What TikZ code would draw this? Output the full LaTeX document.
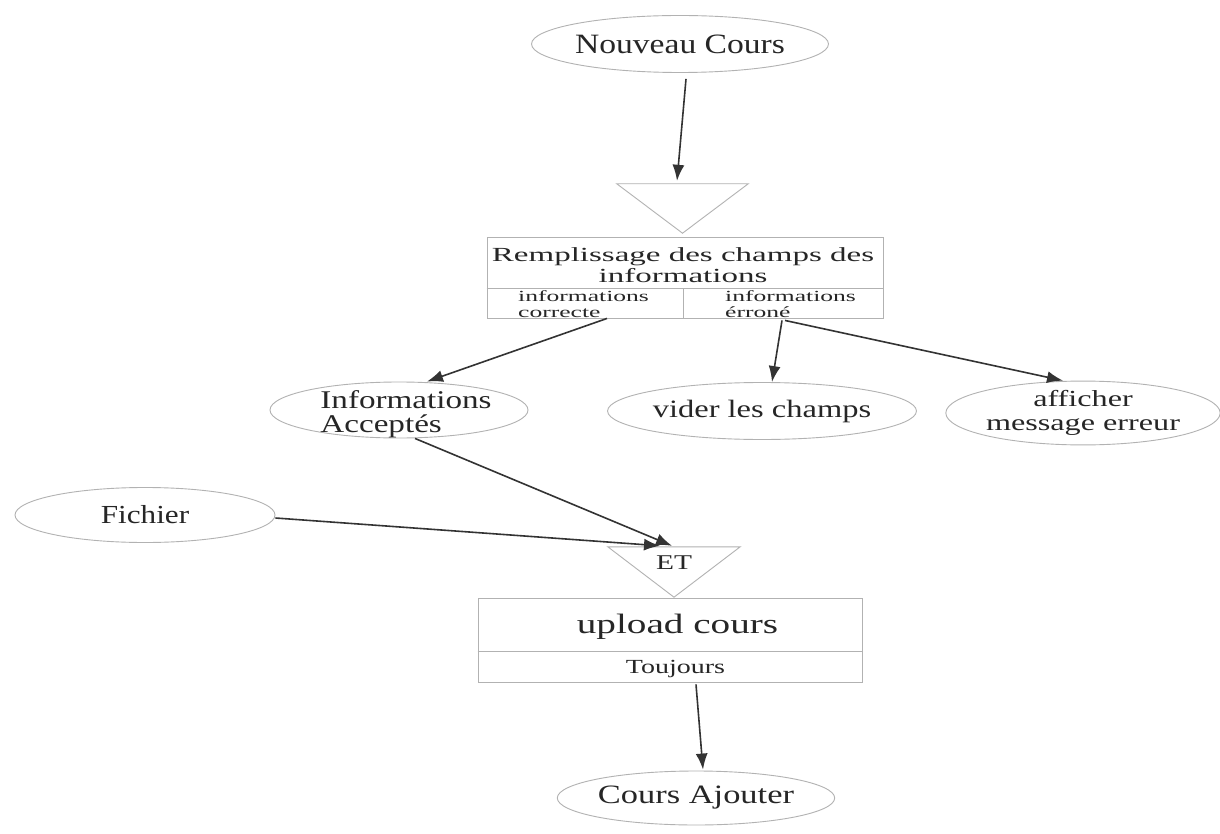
\documentclass[tikz,border=0pt]{standalone}
\usepackage{fontspec}
\setmainfont{Liberation Serif}
\newfontfamily\stA[FakeStretch=1.2]{Liberation Serif}
\newfontfamily\stB[FakeStretch=1.3]{Liberation Serif}
\newfontfamily\stC[FakeStretch=1.4]{Liberation Serif}
\newfontfamily\stD[FakeStretch=1.65]{Liberation Serif}
\usetikzlibrary{shapes.geometric,arrows.meta}
\tikzset{
  outline/.style={draw=gray!60, line width=0.9pt},
  oval/.style={ellipse, outline, inner sep=0pt, text=black!85},
  frame/.style={rectangle, outline, inner sep=0pt},
  lbl/.style={inner sep=0pt, text=black!85},
  arr/.style={-{Latex[length=16pt,width=12pt]}, line width=1.6pt, draw=black!80},
}
\begin{document}
\begin{tikzpicture}[x=1pt,y=-1pt]
\useasboundingbox[fill=white] (0,0) rectangle (1220,834);

% start event
\node[oval, minimum width=265, minimum height=57,
      font=\stA\fontsize{28}{30}\selectfont] (nc) at (680,44) {Nouveau Cours};

% first trigger
\node[inner sep=0pt, minimum width=131, minimum height=49] (t1) at (682.5,208.5) {};
\draw[outline] (t1.north west) -- (t1.north east) -- (t1.south) -- cycle;

% operation: filling the fields
\node[frame, minimum width=396, minimum height=81] (r1) at (685,277.5) {};
\draw[outline] ([yshift=30]r1.south west) -- ([yshift=30]r1.south east);
\draw[outline] ([xshift=-2,yshift=30]r1.south) -- ([xshift=-2]r1.south);
\node[lbl, align=center, font=\stD\fontsize{20}{21}\selectfont] (r1t) at (683,265)
  {Remplissage des champs des\\informations};
\node[lbl, align=left, anchor=west, font=\stD\fontsize{15.5}{16}\selectfont] (r1ok) at (518,304)
  {informations\\correcte};
\node[lbl, align=left, anchor=west, font=\stD\fontsize{15.5}{16}\selectfont] (r1err) at (725,304)
  {informations\\érroné};

% results
\node[oval, minimum width=258, minimum height=56] (ia) at (399,410) {};
\node[lbl, align=left, font=\stB\fontsize{25.5}{24}\selectfont] (iat) at (406,414)
  {Informations\\Acceptés};
\node[oval, minimum width=261, minimum height=57,
      font=\stB\fontsize{25}{27}\selectfont] (vc) at (762,411) {vider les champs};
\node[oval, minimum width=268, minimum height=60, align=center,
      font=\stC\fontsize{23}{24}\selectfont] (ae) at (1083,413) {afficher\\message erreur};
\node[oval, minimum width=260, minimum height=55,
      font=\stA\fontsize{26}{28}\selectfont] (fi) at (145,515) {Fichier};

% synchronisation
\node[inner sep=0pt, minimum width=132, minimum height=50] (t2) at (674,572) {};
\draw[outline] (t2.north west) -- (t2.north east) -- (t2.south) -- cycle;
\node[lbl, anchor=base, font=\stC\fontsize{21}{22}\selectfont] (et) at (674,569) {ET};

% operation: upload
\node[frame, minimum width=384, minimum height=84] (r2) at (670,640) {};
\draw[outline] ([yshift=31]r2.south west) -- ([yshift=31]r2.south east);
\node[lbl, anchor=base, font=\stC\fontsize{28}{30}\selectfont] (up) at (677.5,633) {upload cours};
\node[lbl, anchor=base, font=\stC\fontsize{20}{22}\selectfont] (tj) at (675.5,673) {Toujours};

% end event
\node[oval, minimum width=262, minimum height=54,
      font=\stB\fontsize{26.5}{28}\selectfont] (ca) at (696,798) {Cours Ajouter};

% flows
\draw[arr] ([xshift=6,yshift=-6]nc.south) -- ([xshift=-5.5,yshift=3]t1.north);
\draw[arr] ([xshift=-78]r1.south) -- ([xshift=28]ia.north);
\draw[arr] ([xshift=97,yshift=-2]r1.south) -- ([xshift=10]vc.north);
\draw[arr] ([xshift=100,yshift=-2]r1.south) -- ([xshift=-20]ae.north);
\draw[arr] ([xshift=16]ia.south) -- ([xshift=-2,yshift=1]t2.north);
\draw[arr] ([yshift=-3]fi.east) -- ([xshift=-14,yshift=1]t2.north);
\draw[arr] ([xshift=26,yshift=-2]r2.south) -- ([xshift=7,yshift=1]ca.north);
\end{tikzpicture}
\end{document}
